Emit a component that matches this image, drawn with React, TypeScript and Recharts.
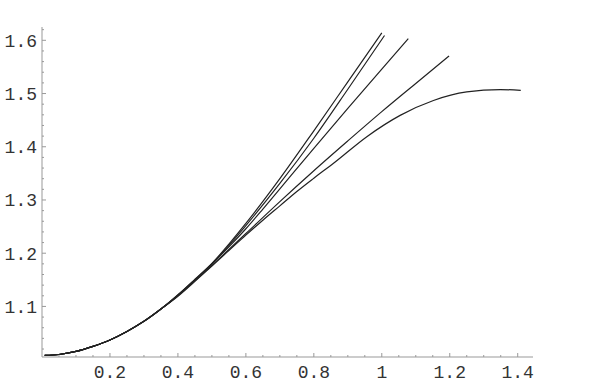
import React from 'react'
import { LineChart, Line, XAxis, YAxis } from 'recharts'

const xTicks = [
  0.05, 0.1, 0.15, 0.2, 0.25, 0.3, 0.35, 0.4, 0.45, 0.5, 0.55, 0.6, 0.65, 0.7,
  0.75, 0.8, 0.85, 0.9, 0.95, 1, 1.05, 1.1, 1.15, 1.2, 1.25, 1.3, 1.35, 1.4,
]
const xLabels = ['0.2', '0.4', '0.6', '0.8', '1', '1.2', '1.4']
const yTicks = [
  1.02, 1.04, 1.06, 1.08, 1.1, 1.12, 1.14, 1.16, 1.18, 1.2, 1.22, 1.24, 1.26,
  1.28, 1.3, 1.32, 1.34, 1.36, 1.38, 1.4, 1.42, 1.44, 1.46, 1.48, 1.5, 1.52,
  1.54, 1.56, 1.58, 1.6, 1.62,
]
const yLabels = ['1.1', '1.2', '1.3', '1.4', '1.5', '1.6']

const sharedX = [0.008, 0.05, 0.1, 0.15, 0.2, 0.25, 0.3, 0.35]
const sharedY = [1.008, 1.0097, 1.0155, 1.025, 1.037, 1.053, 1.072, 1.095]

const curve1X = [0.4, 0.45, 0.5, 0.6, 0.7, 0.8, 0.9, 1.0]
const curve1Y = [1.122, 1.151, 1.181, 1.256, 1.34, 1.43, 1.522, 1.614]
const curve2X = [0.4, 0.45, 0.5, 0.6, 0.7, 0.8, 0.9, 1.008]
const curve2Y = [1.121, 1.15, 1.18, 1.252, 1.331, 1.416, 1.508, 1.609]
const curve3X = [0.4, 0.45, 0.5, 0.55, 0.6, 0.65, 0.7, 0.8, 0.9, 1.0, 1.078]
const curve3Y = [1.121, 1.15, 1.18, 1.212, 1.246, 1.283, 1.321, 1.397, 1.472, 1.546, 1.603]
const curve4X = [0.4, 0.45, 0.5, 0.55, 0.6, 0.7, 0.8, 0.9, 1.0, 1.1, 1.198]
const curve4Y = [1.12, 1.148, 1.177, 1.207, 1.237, 1.297, 1.355, 1.411, 1.466, 1.519, 1.5705]
const curve5X = [0.4, 0.45, 0.5, 0.55, 0.6, 0.65, 0.7, 0.75, 0.8, 0.858, 0.956, 1.054, 1.152, 1.25, 1.349, 1.409]
const curve5Y = [1.119, 1.147, 1.176, 1.205, 1.234, 1.262, 1.289, 1.316, 1.341, 1.369, 1.419, 1.459, 1.487, 1.503, 1.5075, 1.506]

const build = (xs: number[], ys: number[]) =>
  [...sharedX, ...xs].map((x, i) => ({ x, y: [...sharedY, ...ys][i] }))

const curves = [
  build(curve1X, curve1Y),
  build(curve2X, curve2Y),
  build(curve3X, curve3Y),
  build(curve4X, curve4Y),
  build(curve5X, curve5Y),
]

const FONT = '"Liberation Mono", "DejaVu Sans Mono", monospace'
const fmt = (v: number) => String(Math.round(v * 100) / 100)

const XTick = (props: any) => {
  const { x, y, payload } = props
  const label = fmt(payload.value)
  const major = xLabels.includes(label)
  return (
    <g>
      <line x1={x} x2={x} y1={y} y2={y - (major ? 4 : 2)} stroke="#999" />
      {major && (
        <text x={x} y={y + 21} textAnchor="middle" fontFamily={FONT} fontSize={18} fill="#333">
          {label}
        </text>
      )}
    </g>
  )
}

const YTick = (props: any) => {
  const { x, y, payload } = props
  const label = fmt(payload.value)
  const major = yLabels.includes(label)
  return (
    <g>
      <line x1={x} x2={x + (major ? 4 : 2)} y1={y} y2={y} stroke="#999" />
      {major && (
        <text x={x - 5} y={y + 6.5} textAnchor="end" fontFamily={FONT} fontSize={18} fill="#333">
          {label}
        </text>
      )}
    </g>
  )
}

export default function App() {
  return (
    <div style={{ position: 'absolute', left: 0, top: 0, background: '#fff' }}>
      <LineChart width={616} height={385} margin={{ top: 27, right: 83, bottom: 0, left: 0 }}>
        <XAxis
          type="number"
          dataKey="x"
          domain={[0, 1.445]}
          allowDataOverflow
          ticks={xTicks}
          interval={0}
          height={28}
          tickSize={0}
          tickMargin={0}
          tickLine={false}
          axisLine={{ stroke: '#999' }}
          tick={<XTick />}
        />
        <YAxis
          type="number"
          dataKey="y"
          domain={[1.005, 1.625]}
          allowDataOverflow
          ticks={yTicks}
          interval={0}
          width={42}
          tickSize={0}
          tickMargin={0}
          tickLine={false}
          axisLine={{ stroke: '#999' }}
          tick={<YTick />}
        />
        {curves.map((d, i) => (
          <Line
            key={i}
            data={d}
            dataKey="y"
            type="monotone"
            stroke="#222"
            strokeWidth={1.2}
            dot={false}
            activeDot={false}
            isAnimationActive={false}
          />
        ))}
      </LineChart>
    </div>
  )
}
